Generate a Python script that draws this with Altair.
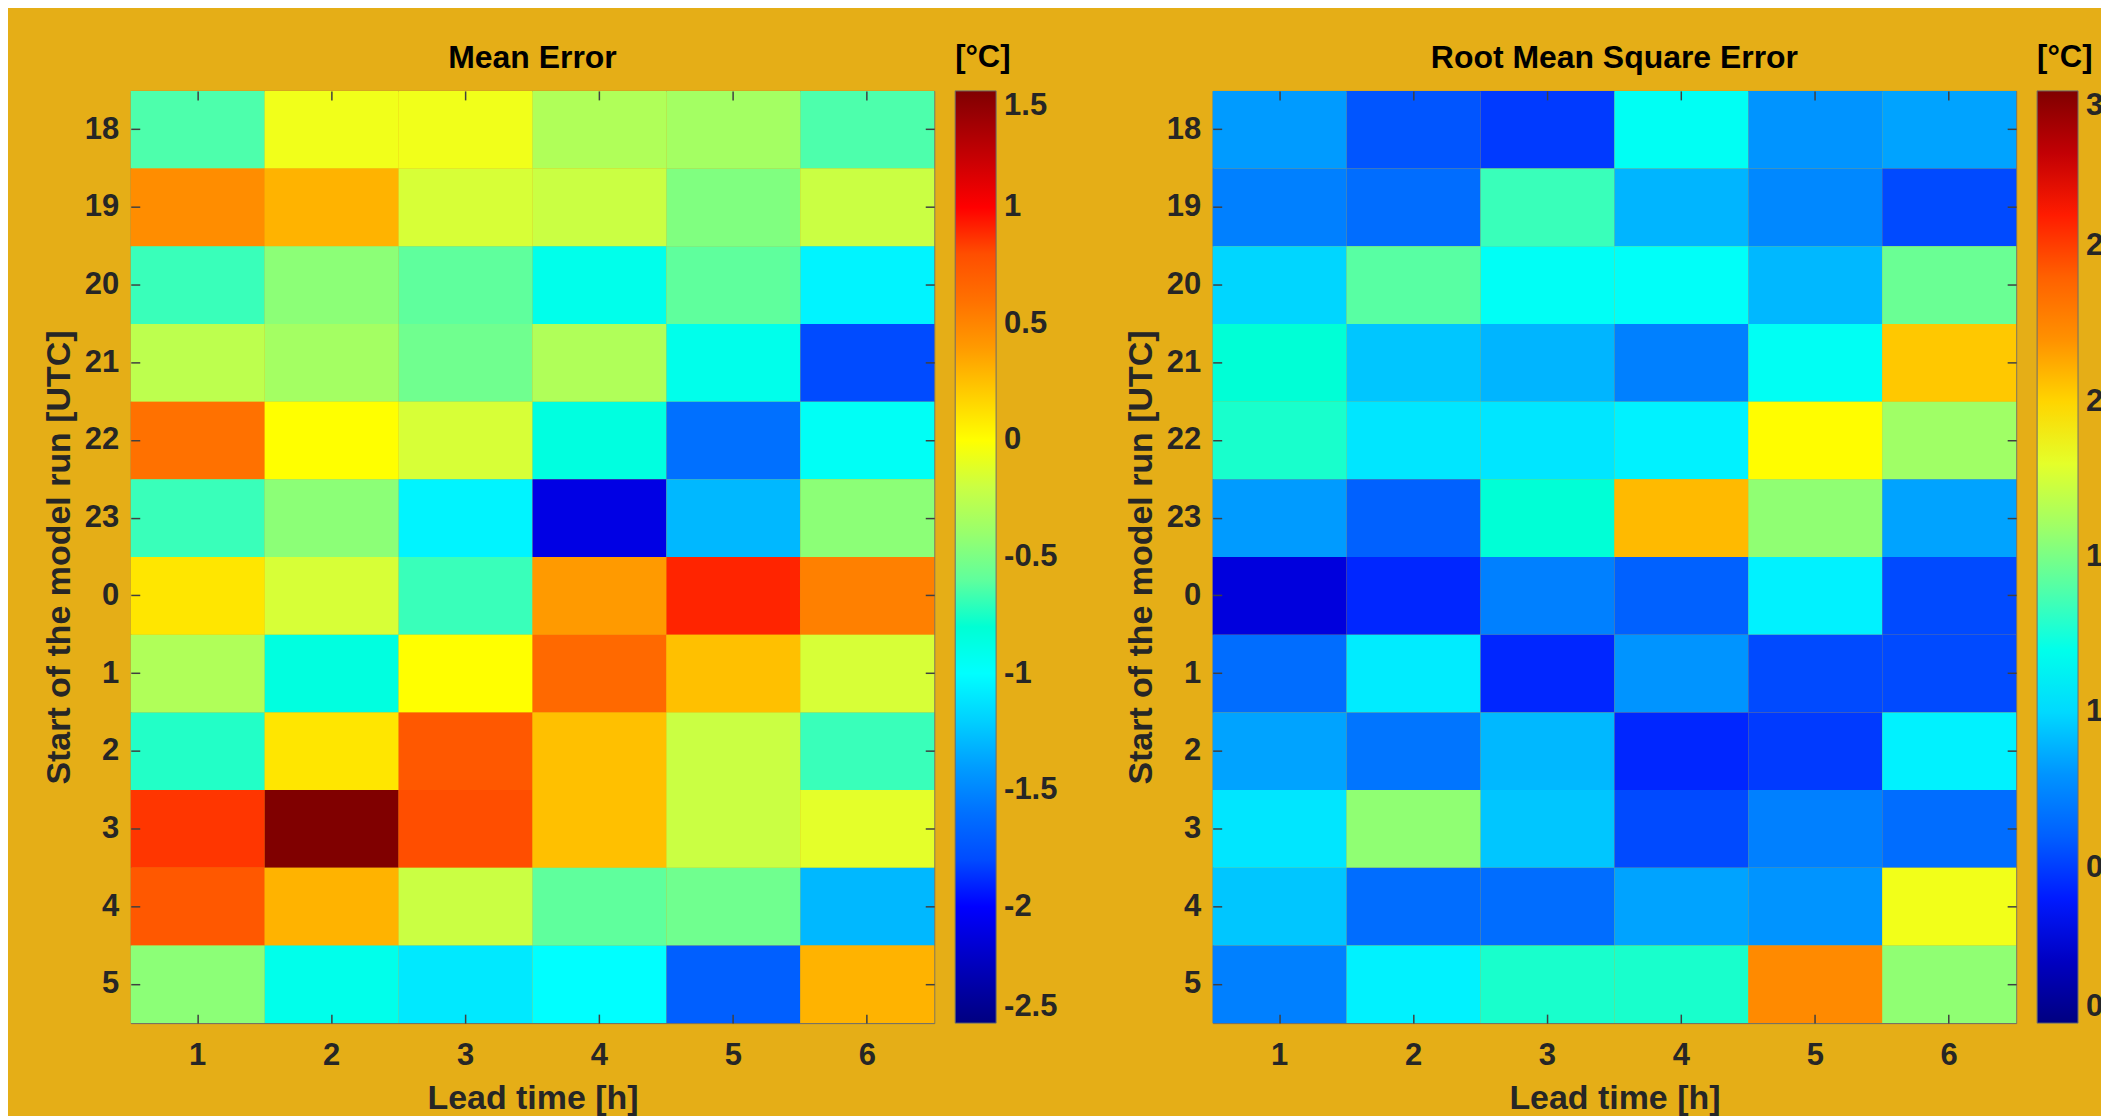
import altair as alt
import pandas as pd

runs = ["18", "19", "20", "21", "22", "23", "0", "1", "2", "3", "4", "5"]
lead = ["1", "2", "3", "4", "5", "6"]

mean_error = [
    [-0.65, -0.05, -0.05, -0.30, -0.35, -0.65],
    [0.45, 0.30, -0.15, -0.20, -0.50, -0.20],
    [-0.70, -0.45, -0.60, -0.90, -0.60, -1.05],
    [-0.25, -0.35, -0.55, -0.30, -0.90, -1.80],
    [0.60, 0.00, -0.15, -0.85, -1.60, -0.95],
    [-0.70, -0.45, -1.05, -2.10, -1.30, -0.45],
    [0.10, -0.15, -0.70, 0.40, 0.95, 0.50],
    [-0.30, -0.85, 0.00, 0.65, 0.25, -0.15],
    [-0.75, 0.10, 0.75, 0.25, -0.20, -0.70],
    [0.90, 1.50, 0.80, 0.25, -0.20, -0.10],
    [0.75, 0.30, -0.20, -0.60, -0.55, -1.30],
    [-0.45, -0.90, -1.10, -1.00, -1.70, 0.30],
]

rmse = [
    [0.82, 0.56, 0.47, 1.17, 0.80, 0.84],
    [0.75, 0.66, 1.35, 0.89, 0.77, 0.52],
    [0.99, 1.41, 1.16, 1.15, 0.90, 1.45],
    [1.27, 0.94, 0.89, 0.75, 1.17, 2.04],
    [1.30, 1.04, 1.04, 1.08, 1.88, 1.60],
    [0.82, 0.61, 1.27, 2.08, 1.55, 0.84],
    [0.28, 0.42, 0.75, 0.61, 1.08, 0.52],
    [0.66, 1.06, 0.42, 0.80, 0.52, 0.52],
    [0.84, 0.70, 0.90, 0.42, 0.47, 1.08],
    [1.04, 1.55, 0.94, 0.52, 0.75, 0.66],
    [0.94, 0.66, 0.66, 0.84, 0.80, 1.84],
    [0.75, 1.08, 1.30, 1.30, 2.22, 1.55],
]

me_ticks = [-2.5, -2, -1.5, -1, -0.5, 0, 0.5, 1, 1.5]
rmse_ticks = [0, 0.5, 1, 1.5, 2, 2.5, 3]

jet = ["#000080", "#0000FF", "#0080FF", "#00FFFF", "#80FF80",
       "#FFFF00", "#FF8000", "#FF0000", "#800000"]

BG = "#E5AE17"
TXT = "#262626"
FONT = "Liberation Sans"
W, H = 805, 934


def frame(vals):
    rows = []
    for i, r in enumerate(runs):
        for j, l in enumerate(lead):
            rows.append({"run": r, "lead": l, "v": vals[i][j]})
    return pd.DataFrame(rows)


def panel(vals, title, lo, hi, ticks):
    df = frame(vals)
    dom = [lo + (hi - lo) * k / 8 for k in range(9)]
    base = alt.Chart(df)
    band = alt.Scale(paddingInner=0, paddingOuter=0)
    color = alt.Color(
        "v:Q",
        scale=alt.Scale(domain=dom, range=jet, clamp=True),
        legend=alt.Legend(
            title="[°C]", orient="none", legendX=W + 21, legendY=-48,
            direction="vertical", gradientLength=H, gradientThickness=41,
            gradientStrokeColor="#6b6b6b", gradientStrokeWidth=1,
            values=ticks, labelOverlap=False, labelOffset=8,
            labelBaseline="middle",
            labelExpr="replace(format(datum.value, '~g'), '−', '-')",
            labelFontSize=31, labelFont=FONT, labelFontWeight="bold",
            labelColor=TXT, titleFontSize=31, titleFont=FONT,
            titleFontWeight="bold", titleColor="#000000", titlePadding=17,
        ),
    )
    main = base.mark_rect().encode(
        x=alt.X("lead:N", sort=lead, scale=band,
                axis=alt.Axis(title="Lead time [h]", labelAngle=0, ticks=False,
                              domain=False, labelPadding=17, titlePadding=12)),
        y=alt.Y("run:N", sort=runs, scale=band,
                axis=alt.Axis(title="Start of the model run [UTC]", ticks=False,
                              domain=False, labelPadding=12, titlePadding=8)),
        color=color,
    )
    tick_a = base.mark_rect(opacity=0).encode(
        x=alt.X("lead:N", sort=lead,
                axis=alt.Axis(orient="top", offset=-9, tickSize=9, labels=False,
                              domain=False, title=None)),
        y=alt.Y("run:N", sort=runs,
                axis=alt.Axis(orient="right", offset=-9, tickSize=9, labels=False,
                              domain=False, title=None)),
    )
    tick_b = base.mark_rect(opacity=0).encode(
        x=alt.X("lead:N", sort=lead,
                axis=alt.Axis(orient="bottom", offset=-9, tickSize=9, labels=False,
                              domain=False, title=None)),
        y=alt.Y("run:N", sort=runs,
                axis=alt.Axis(orient="left", offset=-9, tickSize=9, labels=False,
                              domain=False, title=None)),
    )
    return (
        alt.layer(main, tick_a, tick_b)
        .resolve_axis(x="independent", y="independent")
        .properties(width=W, height=H,
                    title=alt.TitleParams(title, anchor="middle", frame="group",
                                          fontSize=32, font=FONT,
                                          fontWeight="bold", color="#000000",
                                          offset=-32))
    )


left = panel(mean_error, "Mean Error", -2.5, 1.5, me_ticks)
right = panel(rmse, "Root Mean Square Error", 0, 3, rmse_ticks)

chart = (
    alt.hconcat(left, right, spacing=65)
    .resolve_scale(color="independent")
    .properties(background=BG,
                padding={"left": 34, "top": 32, "right": -30, "bottom": 0})
    .configure_view(stroke="#6b6b6b", strokeWidth=1)
    .configure_axis(labelFont=FONT, labelFontSize=31, labelFontWeight="bold",
                    labelColor=TXT, titleFont=FONT, titleFontSize=34,
                    titleFontWeight="bold", titleColor=TXT, tickColor="#404040",
                    tickWidth=1.5, grid=False)
)

chart.save("out.html", embed_options={"renderer": "svg", "actions": False})
